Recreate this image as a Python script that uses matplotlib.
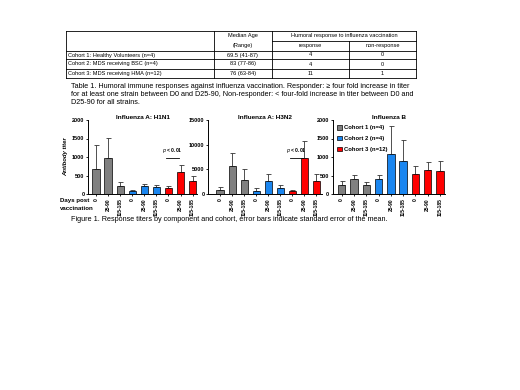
import numpy as np
import matplotlib
matplotlib.use("Agg")
import matplotlib.pyplot as plt
from matplotlib.patches import Patch

plt.rcParams['font.family'] = ['Liberation Sans', 'DejaVu Sans']

# --- data ---
cohorts = ["Cohort 1: Healthy Volunteers (n=4)",
           "Cohort 2: MDS receiving BSC (n=4)",
           "Cohort 3: MDS receiving HMA (n=12)"]
median_age = ["69.5 (41-87)", "83 (77-86)", "76 (63-84)"]
n_response = ["4", "4", "11"]
n_nonresponse = ["0", "0", "1"]

timepoints = ["0", "25-90", "115-185"]
legend_labels = ["Cohort 1 (n=4)", "Cohort 2 (n=4)", "Cohort 3 (n=12)"]
cohort_colors = ["#808080", "#1a86f0", "#ff0000"]

h1n1 = [680, 960, 225, 75, 210, 190, 155, 595, 345]
h1n1_err = [640, 550, 100, 35, 60, 55, 50, 190, 140]
h3n2 = [800, 5600, 2800, 650, 2650, 1200, 650, 7300, 2700]
h3n2_err = [670, 2700, 2300, 650, 1450, 550, 250, 3500, 1300]
flu_b = [250, 395, 235, 395, 1070, 880, 540, 640, 630]
flu_b_err = [90, 110, 100, 120, 770, 580, 225, 215, 250]

W, H = 520, 390
fig = plt.figure(figsize=(W / 100, H / 100), dpi=100)


def box(x0, y0, x1, y1):
    return [x0 / W, 1 - y1 / H, (x1 - x0) / W, (y1 - y0) / H]


# overlay in pixel coords for table and captions
ov = fig.add_axes([0, 0, 1, 1])
ov.set_xlim(0, W)
ov.set_ylim(H, 0)
ov.axis("off")

# table grid
cols = [65.7, 214, 271.7, 349.3, 416]
rows = [30.7, 50.7, 59.3, 68.7, 77.7]
lw = 0.6
for y in rows:
    ov.plot([cols[0], cols[-1]], [y, y], color="k", lw=lw)
ov.plot([cols[2], cols[-1]], [40.7, 40.7], color="k", lw=lw)
for x in [cols[0], cols[1], cols[2], cols[-1]]:
    ov.plot([x, x], [rows[0], rows[-1]], color="k", lw=lw)
ov.plot([cols[3], cols[3]], [40.7, rows[-1]], color="k", lw=lw)

tfs = 4.1
ov.text((cols[1] + cols[2]) / 2, 35.7, "Median Age", ha="center", va="center", fontsize=tfs)
ov.text((cols[1] + cols[2]) / 2, 45.7, "(Range)", ha="center", va="center", fontsize=tfs)
ov.text((cols[2] + cols[4]) / 2, 35.7, "Humoral response to influenza vaccination",
        ha="center", va="center", fontsize=tfs)
ov.text((cols[2] + cols[3]) / 2, 45.7, "response", ha="center", va="center", fontsize=tfs)
ov.text((cols[3] + cols[4]) / 2, 45.7, "non-response", ha="center", va="center", fontsize=tfs)
for i in range(3):
    yc = (rows[i + 1] + rows[i + 2]) / 2
    ov.text(cols[0] + 2.5, yc, cohorts[i], ha="left", va="center", fontsize=tfs)
    ov.text((cols[1] + cols[2]) / 2, yc, median_age[i], ha="center", va="center", fontsize=tfs)
    ov.text((cols[2] + cols[3]) / 2, yc, n_response[i], ha="center", va="center", fontsize=tfs)
    ov.text((cols[3] + cols[4]) / 2, yc, n_nonresponse[i], ha="center", va="center", fontsize=tfs)

cfs = 5.25
ov.text(71, 86, "Table 1. Humoral immune responses against influenza vaccination. Responder: \u2265 four fold increase in titer",
        ha="left", va="center", fontsize=cfs)
ov.text(71, 94.3, "for at least one strain between D0 and D25-90, Non-responder: < four-fold increase in titer between D0 and",
        ha="left", va="center", fontsize=cfs)
ov.text(71, 102.7, "D25-90 for all strains.", ha="left", va="center", fontsize=cfs)
ov.text(70.7, 219.3, "Figure 1. Response titers by component and cohort, error bars indicate standard error of the mean.",
        ha="left", va="center", fontsize=cfs)

# bar panels
panels = [
    ("Influenza A: H1N1", h1n1, h1n1_err, 2000, 500, (88.3, 197), (-0.64, 8.36), True),
    ("Influenza A: H3N2", h3n2, h3n2_err, 15000, 5000, (208.3, 322), (-0.98, 8.47), True),
    ("Influenza B", flu_b, flu_b_err, 2000, 500, (332.7, 445), (-0.73, 8.4), False),
]
colors = [c for c in cohort_colors for _ in timepoints]
labels = timepoints * 3
x = np.arange(9)
axes = []
for title, vals, errs, ymax, step, (x0, x1), xl, sig in panels:
    ax = fig.add_axes(box(x0, 120, x1, 194))
    ax.bar(x, vals, width=0.6, color=colors, edgecolor="k", linewidth=0.5, zorder=2)
    ax.errorbar(x, vals, yerr=[np.zeros(9), errs], fmt="none", ecolor="#333333",
                elinewidth=0.6, capsize=1.8, capthick=0.6, zorder=1)
    ax.set_xlim(*xl)
    ax.set_ylim(0, ymax)
    ax.set_yticks(np.arange(0, ymax + 1, step))
    ax.set_xticks(x)
    ax.set_xticklabels(labels, rotation=90, fontsize=3.6, fontweight="bold")
    for t in ax.get_yticklabels():
        t.set_fontsize(4)
        t.set_fontweight("bold")
    ax.tick_params(axis="both", length=1.6, width=0.6, pad=1.2)
    for s in ["top", "right"]:
        ax.spines[s].set_visible(False)
    for s in ["left", "bottom"]:
        ax.spines[s].set_linewidth(0.7)
    ax.set_title(title, fontsize=4.6, fontweight="bold", pad=1)
    if sig:
        yb = ymax * 0.49
        ax.plot([5.8, 6.9], [yb, yb], color="k", lw=0.6)
        ax.text(6.35, yb + ymax * 0.035, "$p$ < 0.01", ha="center", va="bottom",
                fontsize=3.6, fontweight="bold")
    axes.append(ax)

axes[0].set_ylabel("Antibody titer", fontsize=4.3, fontweight="bold", fontstyle="italic", labelpad=3)
ov.text(60, 200.7, "Days post", ha="left", va="center", fontsize=4.4, fontweight="bold")
ov.text(60, 208.3, "vaccination", ha="left", va="center", fontsize=4.4, fontweight="bold")

handles = [Patch(facecolor=c, edgecolor="k", linewidth=0.5) for c in cohort_colors]
axes[2].legend(handles, legend_labels, loc="upper left", bbox_to_anchor=(0.035, 0.93),
               frameon=False, prop={"weight": "bold", "size": 4.2},
               handlelength=0.9, handleheight=0.8, handletextpad=0.4,
               labelspacing=0.95, borderpad=0, borderaxespad=0)

fig.savefig("out.png", dpi=100)
